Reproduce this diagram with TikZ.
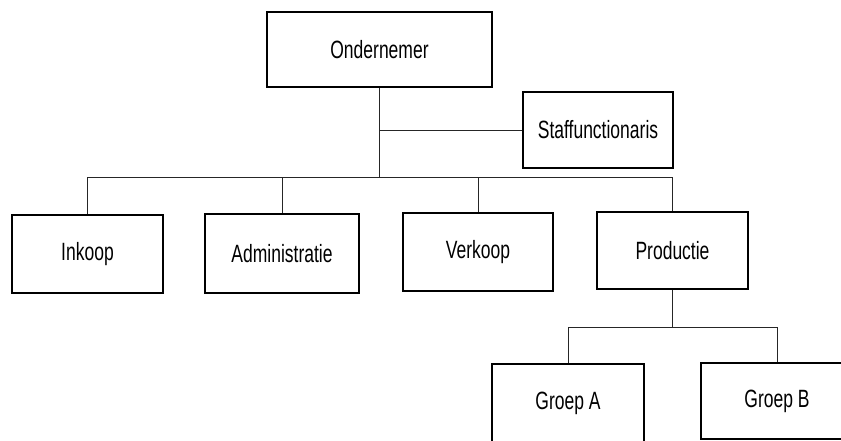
\documentclass[tikz,border=0pt]{standalone}
\usepackage{fontspec}
\setmainfont[FakeStretch=0.7]{Liberation Sans}
\begin{document}
\begin{tikzpicture}[x=1pt,y=-1pt,
  orgbox/.style={draw=black,line width=1.6pt,rectangle,inner sep=0pt,
    font=\fontsize{25}{28}\selectfont},
  conn/.style={draw=black!85,line width=1pt}]
\useasboundingbox (0,0) rectangle (841,440);
\clip (0,0) rectangle (841,440);
\node[orgbox,minimum width=225pt,minimum height=75pt] (ond) at (379.5,49.5) {Ondernemer};
\node[orgbox,minimum width=150pt,minimum height=76pt] (staff) at (598,130) {Staffunctionaris};
\node[orgbox,minimum width=151pt,minimum height=78pt] (ink) at (87.5,254) {Inkoop};
\node[orgbox,minimum width=154pt,minimum height=79pt] (adm) at (282,253.5) {Administratie};
\node[orgbox,minimum width=150pt,minimum height=78pt] (verk) at (478,252) {Verkoop};
\node[orgbox,minimum width=151pt,minimum height=77pt] (prod) at (672.5,250.5) {Productie};
\node[orgbox,minimum width=152pt,minimum height=78pt] (ga) at (568,403) {Groep A};
\node[orgbox,minimum width=152pt,minimum height=76pt] (gb) at (777,401) {Groep B};
\coordinate (bus) at (0,177);
\coordinate (bus2) at (0,327);
\draw[conn] (ond.south) -- (ond.south |- bus);
\draw[conn] (ond.south |- staff.west) -- (staff.west);
\draw[conn] (ink.north) -- (ink.north |- bus) -- (prod.north |- bus) -- (prod.north);
\draw[conn] (adm.north) -- (adm.north |- bus);
\draw[conn] (verk.north) -- (verk.north |- bus);
\draw[conn] (prod.south) -- (prod.south |- bus2);
\draw[conn] (ga.north) -- (ga.north |- bus2) -- (gb.north |- bus2) -- (gb.north);
\end{tikzpicture}
\end{document}
